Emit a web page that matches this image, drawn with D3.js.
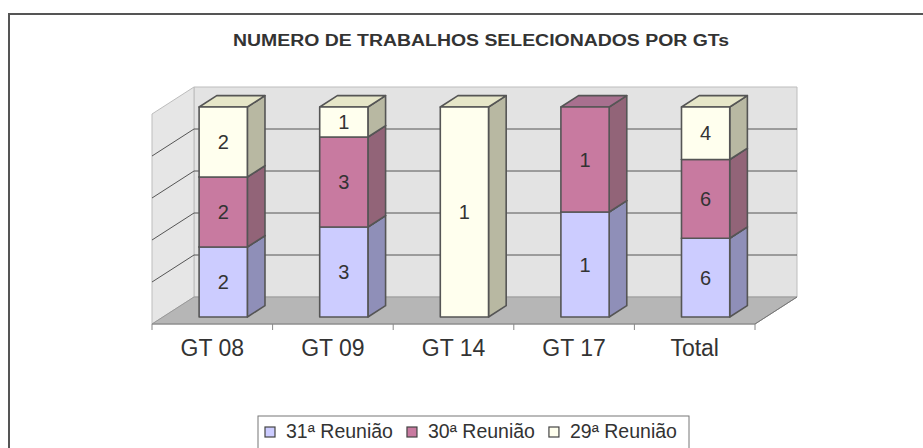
<!DOCTYPE html>
<html lang="pt">
<head>
    <meta charset="UTF-8">
    <title>Numero de trabalhos selecionados por GTs</title>
    <script src="https://d3js.org/d3.v7.min.js"></script>
    <style>
        body { margin: 0; background: #fff; }
        text { font-family: "Liberation Sans", Arial, sans-serif; }
        .face { stroke: #555; stroke-width: 1.6; stroke-linejoin: round; }
    </style>
</head>
<body>
    <div id="chart"></div>

    <script>
        // data
        const categories = ["GT 08", "GT 09", "GT 14", "GT 17", "Total"];
        const seriesNames = ["31ª Reunião", "30ª Reunião", "29ª Reunião"];
        const reuniao31 = [2, 3, 0, 1, 6];
        const reuniao30 = [2, 3, 0, 1, 6];
        const reuniao29 = [2, 1, 1, 0, 4];
        const yTicks = [0, 0.2, 0.4, 0.6, 0.8, 1];

        // front / side / top colours per series
        const colors = [
            {front: "#ccccff", side: "#8f8fb8", top: "#b0b0e0"},
            {front: "#c87aa0", side: "#926478", top: "#a8708f"},
            {front: "#ffffee", side: "#b8b8a2", top: "#e6e6c8"}
        ];

        const W = 923, H = 448;
        const depthX = 42, depthY = 27;   // full depth of the box
        const barD0 = 0.26, barD1 = 0.68;  // where the bars sit in depth

        const svg = d3.select("#chart").append("svg")
            .attr("width", W)
            .attr("height", H);

        // outer frame (runs off the right and bottom edges)
        svg.append("rect")
            .attr("x", 9).attr("y", 14)
            .attr("width", 960).attr("height", 500)
            .attr("fill", "#fff")
            .attr("stroke", "#555")
            .attr("stroke-width", 2);

        svg.append("text")
            .attr("x", 481).attr("y", 46)
            .attr("text-anchor", "middle")
            .attr("font-size", 16)
            .attr("font-weight", "bold")
            .attr("fill", "#333")
            .attr("textLength", 496)
            .attr("lengthAdjust", "spacingAndGlyphs")
            .text("NUMERO DE TRABALHOS SELECIONADOS POR GTs");

        // scales
        const xCat = d3.scaleBand().domain(categories).range([152, 755]);
        const x = d3.scaleBand().domain(categories).range([152, 755])
            .paddingInner(0.6).paddingOuter(0.3);
        const y = d3.scaleLinear().domain([0, 1]).range([324, 114]);

        // project a front-plane point back by depth fraction d
        const P = (px, py, d) => [px + d * depthX, py - d * depthY];
        const poly = pts => "M" + pts.map(p => p.join(",")).join("L") + "Z";

        const [x0, x1] = xCat.range();
        const [yb, yt] = y.range();

        // back wall
        svg.append("path")
            .attr("d", poly([P(x0, yb, 1), P(x1, yb, 1), P(x1, yt, 1), P(x0, yt, 1)]))
            .attr("fill", "#e3e3e3").attr("stroke", "#bdbdbd");
        // side wall
        svg.append("path")
            .attr("d", poly([P(x0, yb, 0), P(x0, yb, 1), P(x0, yt, 1), P(x0, yt, 0)]))
            .attr("fill", "#e6e6e6").attr("stroke", "#bdbdbd");
        // floor
        svg.append("path")
            .attr("d", poly([P(x0, yb, 0), P(x1, yb, 0), P(x1, yb, 1), P(x0, yb, 1)]))
            .attr("fill", "#b6b6b6").attr("stroke", "#999");
        svg.append("line")
            .attr("x1", P(x1, yb, 0)[0]).attr("y1", P(x1, yb, 0)[1])
            .attr("x2", P(x1, yb, 1)[0]).attr("y2", P(x1, yb, 1)[1])
            .attr("stroke", "#777");

        // gridlines on the back wall and side wall
        const grid = svg.append("g").attr("stroke", "#555").attr("stroke-width", 1);
        yTicks.filter(t => t > 0 && t < 1).forEach(t => {
            const a = P(x0, y(t), 0), b = P(x0, y(t), 1), c = P(x1, y(t), 1);
            grid.append("path").attr("fill", "none")
                .attr("d", "M" + a + "L" + b + "L" + c);
        });

        // x axis line and ticks
        const axis = svg.append("g").attr("stroke", "#888");
        axis.append("line")
            .attr("x1", x0).attr("x2", x1).attr("y1", yb).attr("y2", yb);
        categories.concat([null]).forEach((c, i) => {
            const tx = c ? xCat(c) : x1;
            axis.append("line")
                .attr("x1", tx).attr("x2", tx).attr("y1", yb).attr("y2", yb + 6);
        });
        svg.append("g").selectAll("text")
            .data(categories)
            .join("text")
            .attr("x", d => xCat(d) + xCat.bandwidth() / 2)
            .attr("y", 356)
            .attr("text-anchor", "middle")
            .attr("font-size", 23)
            .attr("fill", "#333")
            .text(d => d);

        // 100% stacked data
        const table = categories.map((c, i) => ({
            cat: c, s0: reuniao31[i], s1: reuniao30[i], s2: reuniao29[i]
        }));
        const stack = d3.stack().keys(["s0", "s1", "s2"])
            .offset(d3.stackOffsetExpand);
        const layers = stack(table);

        const bars = svg.append("g");
        categories.forEach((c, ci) => {
            layers.forEach((layer, si) => {
                const seg = layer[ci];
                const val = seg.data["s" + si];
                if (!val) return;
                const bx0 = x(c), bx1 = x(c) + x.bandwidth();
                const ylo = y(seg[0]), yhi = y(seg[1]);
                const col = colors[si];
                const g = bars.append("g");
                // side face
                g.append("path").attr("class", "face").attr("fill", col.side)
                    .attr("d", poly([P(bx1, ylo, barD0), P(bx1, ylo, barD1),
                        P(bx1, yhi, barD1), P(bx1, yhi, barD0)]));
                // top face
                g.append("path").attr("class", "face").attr("fill", col.top)
                    .attr("d", poly([P(bx0, yhi, barD0), P(bx1, yhi, barD0),
                        P(bx1, yhi, barD1), P(bx0, yhi, barD1)]));
                // front face
                g.append("path").attr("class", "face").attr("fill", col.front)
                    .attr("d", poly([P(bx0, ylo, barD0), P(bx1, ylo, barD0),
                        P(bx1, yhi, barD0), P(bx0, yhi, barD0)]));
                const mid = P((bx0 + bx1) / 2, (ylo + yhi) / 2, barD0);
                g.append("text")
                    .attr("x", mid[0]).attr("y", mid[1])
                    .attr("dy", "0.36em")
                    .attr("text-anchor", "middle")
                    .attr("font-size", 20)
                    .attr("fill", "#333")
                    .text(val);
            });
        });

        // legend
        const legend = svg.append("g");
        legend.append("rect")
            .attr("x", 258).attr("y", 416)
            .attr("width", 431).attr("height", 60)
            .attr("fill", "#fff").attr("stroke", "#777");
        let lx = 265;
        seriesNames.forEach((name, i) => {
            legend.append("rect")
                .attr("x", lx).attr("y", 427)
                .attr("width", 10).attr("height", 10)
                .attr("fill", colors[i].front)
                .attr("stroke", "#444").attr("stroke-width", 1.2);
            const t = legend.append("text")
                .attr("x", lx + 21).attr("y", 438)
                .attr("font-size", 19.5)
                .attr("fill", "#333")
                .text(name);
            lx += 21 + t.node().getComputedTextLength() + 14;
        });
    </script>
</body>
</html>
